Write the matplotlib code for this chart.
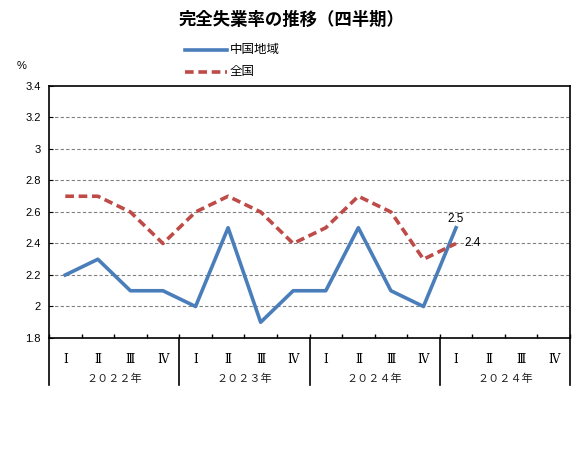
import matplotlib
matplotlib.use("Agg")
import matplotlib.pyplot as plt
from matplotlib.lines import Line2D

plt.rcParams['font.family'] = ['Noto Sans CJK JP', 'DejaVu Sans']

quarters = ["Ⅰ", "Ⅱ", "Ⅲ", "Ⅳ"]
years = ["２０２２年", "２０２３年", "２０２４年", "２０２４年"]
chugoku = [2.2, 2.3, 2.1, 2.1, 2.0, 2.5, 1.9, 2.1, 2.1, 2.5, 2.1, 2.0, 2.5]
zenkoku = [2.7, 2.7, 2.6, 2.4, 2.6, 2.7, 2.6, 2.4, 2.5, 2.7, 2.6, 2.3, 2.4]
yticks = [1.8, 2, 2.2, 2.4, 2.6, 2.8, 3, 3.2, 3.4]
ytick_labels = ["1.8", "2", "2.2", "2.4", "2.6", "2.8", "3", "3.2", "3.4"]

blue = "#4A7EBB"
red = "#BE4B48"

fig = plt.figure(figsize=(5.84, 4.49), dpi=100)
ax = fig.add_axes([49/584, 1-338/449, (570-49)/584, (338-86)/449])

n = len(quarters) * len(years)
ax.plot(list(range(len(chugoku))), chugoku, color=blue, lw=2.6, zorder=3)
ax.plot(list(range(len(zenkoku))), zenkoku, color=red, lw=2.6, ls=(0, (2.4, 1.3)), zorder=3)

ax.set_xlim(-0.5, n - 0.5)
ax.set_ylim(1.8, 3.4)
ax.set_yticks(yticks)
ax.set_yticklabels(ytick_labels, fontsize=8, family=['Liberation Sans', 'DejaVu Sans'])
ax.tick_params(axis='y', direction='in', length=3, pad=6)
for y in yticks[1:-1]:
    ax.axhline(y, color='#808080', lw=0.8, ls=(0, (3, 2)), zorder=1)

ax.set_xticks([i + 0.5 for i in range(-1, n)])
ax.set_xticklabels([])
ax.tick_params(axis='x', direction='in', length=3, width=1)
for s in ax.spines.values():
    s.set_linewidth(1.2)
    s.set_color('black')

# category labels
trans = ax.get_xaxis_transform()
for i in range(n):
    ax.text(i, -0.085, quarters[i % 4], transform=trans, ha='center', va='center',
            fontsize=8.5, family=['DejaVu Serif', 'Noto Sans CJK JP'])
for j, yl in enumerate(years):
    ax.text(j*4 + 1.5, -0.16, yl, transform=trans, ha='center', va='center', fontsize=8,
            color='#222222')
    xb = j*4 - 0.5
    ax.add_line(Line2D([xb, xb], [0, -(385-338)/252], transform=trans, color='black', lw=1.2, clip_on=False))
ax.add_line(Line2D([n-0.5, n-0.5], [0, -(385-338)/252], transform=trans, color='black', lw=1.2, clip_on=False))

# data labels
ax.text(len(chugoku)-1, chugoku[-1] + 0.02, "2.5", ha='center', va='bottom', fontsize=8.5,
        family=['Liberation Sans', 'DejaVu Sans'])
ax.text(len(zenkoku)-1 + 0.25, zenkoku[-1], "2.4", ha='left', va='center', fontsize=8.5,
        family=['Liberation Sans', 'DejaVu Sans'])

fig.text(22/584, 1-66/449, "%", fontsize=8, ha='center', va='center', family=['Liberation Sans', 'DejaVu Sans'])
fig.text(292/584, 1-20/449, "完全失業率の推移（四半期）", fontsize=12.5, fontweight='bold', ha='center', va='center')

# legend
fig.add_artist(Line2D([185/584, 227/584], [1-50/449]*2, color=blue, lw=2.6))
fig.text(230/584, 1-50/449, "中国地域", fontsize=9, va='center')
fig.add_artist(Line2D([185/584, 227/584], [1-72/449]*2, color=red, lw=2.6, ls=(0, (2.4, 1.3))))
fig.text(230/584, 1-72/449, "全国", fontsize=9, va='center')

fig.savefig("out.png", dpi=100)
